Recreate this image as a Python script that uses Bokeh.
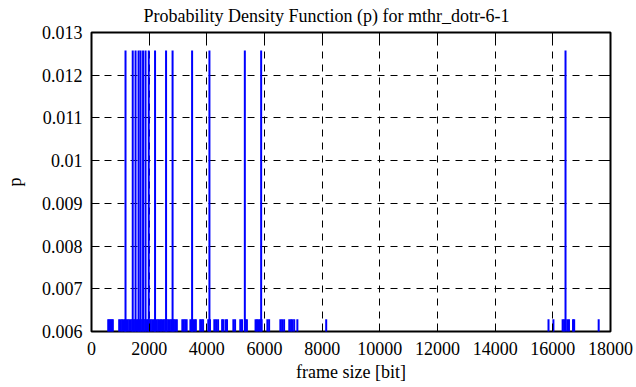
from bokeh.plotting import figure
from bokeh.models import LinearAxis, FixedTicker, Range1d
from bokeh.embed import file_html
from bokeh.resources import INLINE

N_FRAMES = 159

# frame sizes [bit] seen once (p = 1/159)
low_sizes = [
    580, 620, 660, 700, 740,
    960, 1010, 1060, 1110, 1160, 1210, 1260, 1310, 1360, 1410, 1460, 1510,
    1560, 1610, 1660, 1710, 1760, 1810, 1860, 1910, 1960, 2010, 2060, 2110,
    2160, 2210, 2260, 2310, 2360, 2410, 2460, 2510, 2560, 2610, 2660, 2710,
    2760, 2810, 2860, 2910, 2960,
    3150, 3200, 3250, 3300,
    3430, 3480, 3530, 3580, 3620,
    3770, 3820, 3870,
    4050, 4110,
    4260, 4320, 4390,
    4530, 4570, 4650, 4700,
    4920, 4980,
    5160, 5220,
    5340, 5390,
    5690, 5740, 5790, 5840, 5900,
    6100, 6160,
    6550, 6610, 6680,
    6860, 6920, 6970, 7030,
    7140,
    8140,
    15850, 16020,
    16340, 16390, 16500, 16560,
    16700, 16740,
    17590,
]
# frame sizes [bit] seen twice (p = 2/159)
high_sizes = [1180, 1430, 1528, 1632, 1701, 1788, 1875, 1986, 2204, 2586,
              2812, 3489, 4090, 5318, 5884, 16440]

x_ticks = [0, 2000, 4000, 6000, 8000, 10000, 12000, 14000, 16000, 18000]
y_ticks = [0.006, 0.007, 0.008, 0.009, 0.01, 0.011, 0.012, 0.013]
y_labels = ["0.006", "0.007", "0.008", "0.009", "0.01", "0.011", "0.012", "0.013"]

sizes = low_sizes + high_sizes
probs = [1 / N_FRAMES] * len(low_sizes) + [2 / N_FRAMES] * len(high_sizes)

FONT = "Liberation Serif, serif"

p = figure(width=636, height=387,
           x_range=Range1d(0, 18000), y_range=Range1d(0.006, 0.013),
           output_backend="svg", toolbar_location=None,
           title="Probability Density Function (p) for mthr_dotr-6-1",
           min_border_left=91, min_border_right=26,
           min_border_top=31, min_border_bottom=56)
p.background_fill_color = "white"
p.border_fill_color = "white"
p.outline_line_color = "black"
p.outline_line_width = 2

p.title.text_font = FONT
p.title.text_font_size = "18px"
p.title.text_font_style = "normal"
p.title.text_color = "black"
p.title.align = "left"
p.title.vertical_align = "top"
p.title.offset = 52
p.title.standoff = 10

p.segment(x0=sizes, y0=[0] * len(sizes), x1=sizes, y1=probs,
          line_color="#0000ff", line_width=2)

for ax in (p.xaxis[0], p.yaxis[0]):
    ax.major_tick_in = 8
    ax.major_tick_out = 0
    ax.minor_tick_line_color = None
    ax.axis_line_color = None
    ax.major_tick_line_color = "black"
    ax.major_tick_line_width = 1
    ax.major_label_text_font = FONT
    ax.major_label_text_font_size = "18px"
    ax.major_label_text_color = "black"
    ax.axis_label_text_font = FONT
    ax.axis_label_text_font_size = "18px"
    ax.axis_label_text_font_style = "normal"
    ax.axis_label_text_color = "black"

p.xaxis[0].ticker = FixedTicker(ticks=x_ticks)
p.yaxis[0].ticker = FixedTicker(ticks=y_ticks)
p.yaxis[0].major_label_overrides = {t: l for t, l in zip(y_ticks, y_labels)}
p.xaxis[0].axis_label = "frame size [bit]"
p.yaxis[0].axis_label = "p"
p.xaxis[0].major_label_standoff = 10
p.yaxis[0].major_label_standoff = 9
p.xaxis[0].axis_label_standoff = 4
p.yaxis[0].axis_label_standoff = 14

# mirrored tick marks on top and right
top = LinearAxis(ticker=FixedTicker(ticks=x_ticks))
right = LinearAxis(ticker=FixedTicker(ticks=y_ticks))
for ax in (top, right):
    ax.major_tick_in = 8
    ax.major_tick_out = 0
    ax.minor_tick_line_color = None
    ax.axis_line_color = None
    ax.major_tick_line_color = "black"
    ax.major_label_text_font_size = "0px"
    ax.major_label_standoff = 0
    ax.major_label_text_alpha = 0
p.add_layout(top, "above")
p.add_layout(right, "right")

for g in (p.xgrid[0], p.ygrid[0]):
    g.grid_line_color = "black"
    g.grid_line_dash = "7 6"
    g.grid_line_width = 1
p.xgrid[0].ticker = FixedTicker(ticks=x_ticks)
p.ygrid[0].ticker = FixedTicker(ticks=y_ticks)

open("out.html", "w").write(file_html(p, INLINE))
